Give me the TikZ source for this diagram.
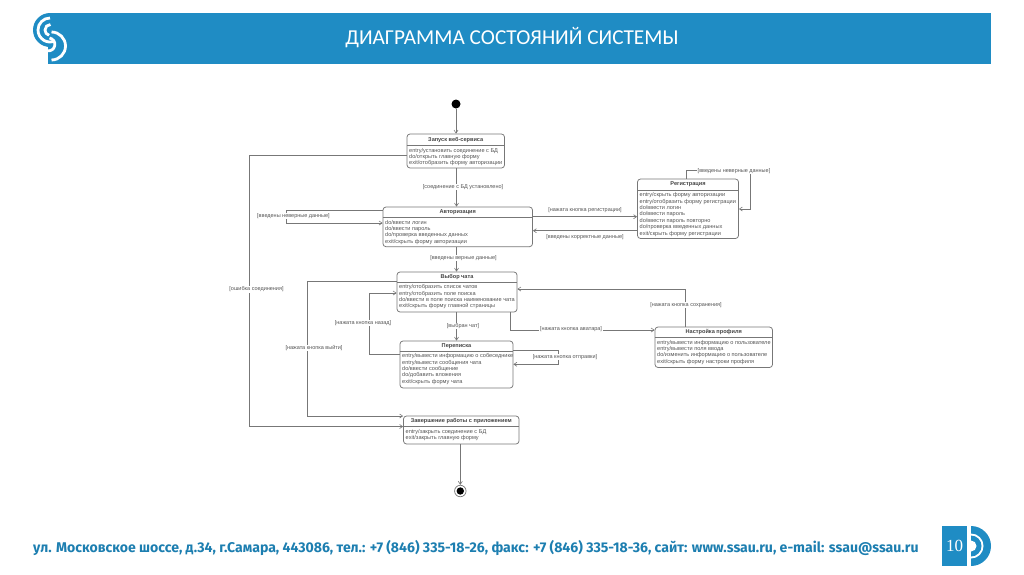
\documentclass[tikz,border=0pt]{standalone}
\usepackage{fontspec}
\setmainfont{Liberation Sans}
\newfontfamily\titlefont{Carlito}
\newfontfamily\footfont{Fira Sans}
\newfontfamily\numfont{Liberation Serif}
\usetikzlibrary{arrows.meta,fit,calc}
\definecolor{ssau}{HTML}{1F8CC4}
\definecolor{umlline}{HTML}{777777}
\definecolor{umltext}{HTML}{555555}
\tikzset{
  statebox/.style={draw=umlline,line width=.75pt,rounded corners=3pt,fill=white,inner sep=0pt},
  divider/.style={draw=umlline,line width=.6pt},
  statetitle/.style={font=\fontsize{5.6}{6.4}\selectfont\bfseries,text=umltext!80!black,inner sep=0pt},
  statebody/.style={font=\fontsize{5.6}{6.45}\selectfont,text=umltext,inner sep=0pt,align=left,anchor=north west},
  conn/.style={draw=umlline,line width=.75pt,-{Straight Barb[length=3pt,width=4pt,line width=.6pt]}},
  guard/.style={font=\fontsize{5.5}{6.4}\selectfont,text=umltext,fill=white,inner sep=.7pt}
}
\newcommand{\umlstate}[8]{%
  \coordinate (#1-nw) at (#2,#3);
  \coordinate (#1-se) at (#4,#5);
  \node[statebox,fit=(#1-nw)(#1-se)] (#1) {};
  \draw[divider] (#1.west |- 0,#6) -- (#1.east |- 0,#6);
  \node[statetitle] (#1-t) at ({(#2+#4)/2},{(#3+#6)/2}) {#7};
  \node[statebody] (#1-b) at (#2+2,#6+2.3) {#8};
}
\begin{document}
\begin{tikzpicture}[x=1pt,y=-1pt]
\useasboundingbox (0,0) rectangle (1024,574);
\fill[white] (0,0) rectangle (1024,574);
% banner
\fill[ssau] (48,13) rectangle (991,64);
\fill[ssau] (50,30) circle[radius=17pt];
\fill[white] (32,47) rectangle (47.5,64);
\fill[ssau] (47.5,46) rectangle (56,64);
% logo
\draw[white,line width=2.8pt] (50,18) arc[start angle=90,end angle=295,radius=12pt];
\draw[white,line width=2.8pt] (50.5,24.5) arc[start angle=90,end angle=255,radius=5.5pt];
\draw[white,line width=2.8pt] (51.5,32) arc[start angle=90,end angle=-90,radius=14pt];
\draw[white,line width=2.8pt] (49.5,38) arc[start angle=80,end angle=-100,radius=6.5pt];
\node[font=\titlefont\fontsize{21.25}{24}\selectfont,text=white,inner sep=0pt] (title) at (512,38) {ДИАГРАММА СОСТОЯНИЙ СИСТЕМЫ};
% states
\node[circle,fill=black,minimum size=9pt,inner sep=0pt] (start) at (456,104) {};
\umlstate{zapusk}{407}{134}{504.5}{168}{145.5}{Запуск веб-сервиса}{entry/установить соединение с БД\\do/открыть главную форму\\exit/отобразить форму авторизации}
\umlstate{avt}{383}{207}{532.5}{246.7}{217.5}{Авторизация}{do/ввести логин\\do/ввести пароль\\do/проверка введенных данных\\exit/скрыть форму авторизации}
\umlstate{reg}{637.5}{179}{738.5}{238.5}{190}{Регистрация}{entry/скрыть форму авторизации\\entry/отобразить форму регистрации\\do/ввести логин\\do/ввести пароль\\do/ввести пароль повторно\\do/проверка введенных данных\\exit/скрыть форму регистрации}
\umlstate{vybor}{397}{272}{517}{312}{282}{Выбор чата}{entry/отобразить список чатов\\entry/отобразить поле поиска\\do/ввести в поле поиска наименование чата\\exit/скрыть форму главной страницы}
\umlstate{perep}{400}{341}{513}{388}{351}{Переписка}{entry/вывести информацию о собеседнике\\entry/вывести сообщения чата\\do/ввести сообщение\\do/добавить вложения\\exit/скрыть форму чата}
\umlstate{nastr}{655}{327}{772.5}{367.5}{337.5}{Настройка профиля}{entry/вывести информацию о пользователе\\entry/вывести поля ввода\\do/изменить информацию о пользователе\\exit/скрыть форму настроки профиля}
\umlstate{zaver}{403.5}{416}{519}{444}{426.7}{Завершение работы с приложением}{entry/закрыть соединение с БД\\exit/закрыть главную форму}
\node[circle,draw=umlline,line width=.7pt,fill=white,minimum size=11.5pt,inner sep=0pt] (end) at (460.3,491) {};
\fill[black] (end.center) circle[radius=3.7pt];
% connectors
\draw[conn] (start) -- (zapusk.north -| start);
\draw[conn] (zapusk.south -| 456.5,0) -- (avt.north -| 456.5,0);
\draw[conn] (zapusk.west |- 0,155) -- (249,155) -- (249,426.5) -- (zaver.west |- 0,426.5);
\draw[conn] (avt.west |- 0,210) -- (286,210) -- (286,223) -- (avt.west |- 0,223);
\draw[conn] (avt.east |- 0,216.7) -- (reg.west |- 0,216.7);
\draw[conn] (reg.west |- 0,230.7) -- (avt.east |- 0,230.7);
\draw[conn] (reg.north -| 686.7,0) -- (686.7,170) -- (750,170) -- (750,209) -- (reg.east |- 0,209);
\draw[conn] (avt.south -| 456.5,0) -- (vybor.north -| 456.5,0);
\draw[conn] (vybor.west |- 0,281.7) -- (307,281.7) -- (307,416) -- (zaver.west |- 0,416);
\draw[conn] (vybor.south -| 456.5,0) -- (perep.north -| 456.5,0);
\draw[conn] (perep.west |- 0,354) -- (369,354) -- (369,293) -- (vybor.west |- 0,293);
\draw[conn] (vybor.south -| 510,0) -- (510,330) -- (nastr.west |- 0,330);
\draw[conn] (nastr.north -| 685.7,0) -- (685.7,289) -- (vybor.east |- 0,289);
\draw[conn] (perep.east |- 0,350.7) -- (558.7,350.7) -- (558.7,364.3) -- (perep.east |- 0,364.3);
\draw[conn] (zaver.south -| 460.3,0) -- (end.north);
% guards
\node[guard] (g1) at (463,187) {[соединение с БД установлено]};
\node[guard] (g2) at (293.5,216) {[введены неверные данные]};
\node[guard] (g3) at (256.5,289.5) {[ошибка соединения]};
\node[guard] (g4) at (585,210) {[нажата кнопка регистрации]};
\node[guard] (g5) at (585,237) {[введены корректные данные]};
\node[guard] (g6) at (734,171) {[введены неверные данные]};
\node[guard] (g7) at (463.5,258) {[введены верные данные]};
\node[guard] (g8) at (314,348) {[нажата кнопка выйти]};
\node[guard] (g9) at (363,323) {[нажата кнопка назад]};
\node[guard] (g10) at (463,326) {[выбран чат]};
\node[guard] (g11) at (571,329) {[нажата кнопка аватара]};
\node[guard] (g12) at (686,305) {[нажата кнопка сохранения]};
\node[guard] (g13) at (565,357) {[нажата кнопка отправки]};
% footer
\node[font=\footfont\bfseries\fontsize{14.08}{16}\selectfont,text=ssau!90!black,anchor=west,inner sep=0pt] (foot) at (33,548) {ул. Московское шоссе, д.34, г.Самара, 443086, тел.: +7 (846) 335-18-26, факс: +7 (846) 335-18-36, сайт: www.ssau.ru, e-mail: ssau@ssau.ru};
\node[fill=ssau,minimum width=25pt,minimum height=40pt,inner sep=0pt,anchor=north west,text=white,font=\numfont\fontsize{17}{20}\selectfont] (page) at (942,526) {10};
\fill[ssau] (971,526) arc[start angle=90,end angle=-90,radius=20pt] -- cycle;
\fill[white] (971,533.5) arc[start angle=90,end angle=-90,radius=12.5pt] -- cycle;
\fill[ssau] (971,535.5) arc[start angle=90,end angle=-90,radius=10.5pt] -- cycle;
\fill[white] (971,540.5) arc[start angle=90,end angle=-90,radius=5.5pt] -- cycle;
\end{tikzpicture}
\end{document}
